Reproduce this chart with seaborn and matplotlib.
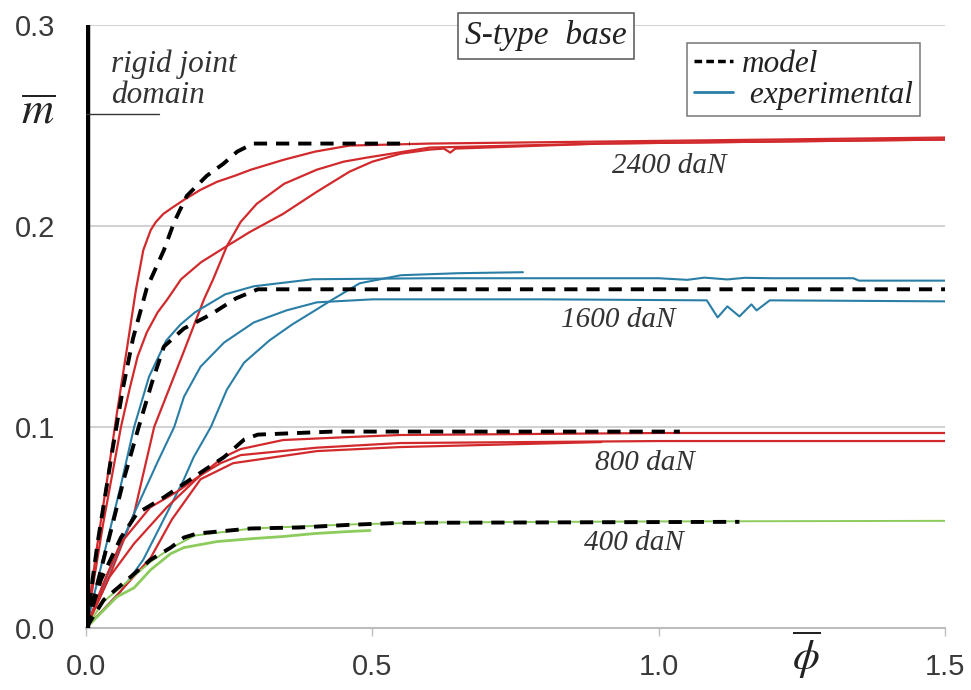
import numpy as np
import pandas as pd
import matplotlib
matplotlib.use("Agg")
import matplotlib.pyplot as plt
from matplotlib.lines import Line2D
import seaborn as sns

# ---------------- data ----------------
# 2400 daN
m2400_x = [0.0, 0.02, 0.047, 0.065, 0.082, 0.106, 0.136, 0.154, 0.176, 0.211, 0.240, 0.264, 0.292, 0.565]
m2400_y = [0.0, 0.042, 0.090, 0.120, 0.144, 0.169, 0.188, 0.202, 0.215, 0.225, 0.231, 0.237, 0.241, 0.241]

r2400a_x = [0.0, 0.019, 0.037, 0.054, 0.072, 0.087, 0.100, 0.113, 0.122, 0.135, 0.150, 0.171, 0.200, 0.229, 0.260, 0.288, 0.346, 0.40, 0.46, 0.60, 0.9, 1.2, 1.5]
r2400a_y = [0.0, 0.040, 0.074, 0.107, 0.140, 0.168, 0.188, 0.198, 0.202, 0.206, 0.209, 0.213, 0.218, 0.222, 0.225, 0.228, 0.233, 0.237, 0.240, 0.241, 0.242, 0.243, 0.244]

r2400b_x = [0.0, 0.03, 0.061, 0.077, 0.090, 0.106, 0.125, 0.142, 0.166, 0.201, 0.246, 0.286, 0.344, 0.403, 0.46, 0.50, 0.55, 0.60, 0.625, 0.636, 0.645, 0.9, 1.5]
r2400b_y = [0.0, 0.052, 0.100, 0.120, 0.135, 0.147, 0.157, 0.1635, 0.1735, 0.182, 0.190, 0.197, 0.206, 0.217, 0.227, 0.232, 0.236, 0.238, 0.2385, 0.2365, 0.2385, 0.241, 0.243]

r2400c_x = [0.0, 0.04, 0.084, 0.119, 0.17, 0.206, 0.222, 0.246, 0.270, 0.298, 0.346, 0.403, 0.45, 0.49, 0.60, 0.9, 1.5]
r2400c_y = [0.0, 0.025, 0.057, 0.100, 0.137, 0.1635, 0.1735, 0.190, 0.202, 0.211, 0.221, 0.228, 0.232, 0.234, 0.239, 0.241, 0.243]

# 1600 daN
m1600_x = [0.0, 0.044, 0.066, 0.092, 0.115, 0.136, 0.171, 0.218, 0.262, 0.30, 1.5]
m1600_y = [0.0, 0.049, 0.074, 0.100, 0.122, 0.140, 0.149, 0.156, 0.164, 0.1685, 0.1685]

b1600a_x = [0.0, 0.03, 0.06, 0.084, 0.11, 0.14, 0.165, 0.19, 0.243, 0.293, 0.396, 0.60, 1.0, 1.05, 1.08, 1.12, 1.15, 1.2, 1.34, 1.35, 1.5]
b1600a_y = [0.0, 0.035, 0.070, 0.100, 0.125, 0.143, 0.151, 0.157, 0.166, 0.170, 0.1735, 0.174, 0.174, 0.1732, 0.1743, 0.1734, 0.1742, 0.174, 0.174, 0.1728, 0.1728]

b1600b_x = [0.0, 0.04, 0.084, 0.124, 0.154, 0.171, 0.20, 0.241, 0.293, 0.35, 0.403, 0.50, 0.80, 1.084, 1.103, 1.12, 1.141, 1.162, 1.171, 1.194, 1.5]
b1600b_y = [0.0, 0.028, 0.057, 0.082, 0.100, 0.115, 0.130, 0.142, 0.152, 0.158, 0.162, 0.1635, 0.1635, 0.163, 0.1545, 0.160, 0.155, 0.161, 0.158, 0.163, 0.1625]

b1600c_x = [0.0, 0.06, 0.10, 0.141, 0.171, 0.188, 0.218, 0.246, 0.276, 0.32, 0.36, 0.40, 0.431, 0.478, 0.55, 0.65, 0.763]
b1600c_y = [0.0, 0.018, 0.034, 0.057, 0.074, 0.085, 0.100, 0.1186, 0.132, 0.143, 0.151, 0.158, 0.1635, 0.1715, 0.1755, 0.1765, 0.177]

# 800 daN
m800_x = [0.0, 0.026, 0.061, 0.089, 0.136, 0.188, 0.241, 0.276, 0.30, 0.43, 1.037]
m800_y = [0.0, 0.024, 0.045, 0.057, 0.065, 0.075, 0.085, 0.0937, 0.0962, 0.0977, 0.0977]

r800a_x = [0.0, 0.03, 0.06, 0.112, 0.16, 0.20, 0.24, 0.27, 0.344, 0.46, 0.548, 1.0, 1.5]
r800a_y = [0.0, 0.022, 0.042, 0.060, 0.068, 0.076, 0.085, 0.089, 0.0935, 0.095, 0.096, 0.097, 0.097]

r800b_x = [0.0, 0.04, 0.084, 0.141, 0.20, 0.235, 0.27, 0.403, 0.548, 1.0, 1.5]
r800b_y = [0.0, 0.025, 0.042, 0.060, 0.076, 0.082, 0.086, 0.0897, 0.092, 0.093, 0.093]

r800c_x = [0.0, 0.05, 0.113, 0.15, 0.20, 0.257, 0.403, 0.548, 0.90]
r800c_y = [0.0, 0.015, 0.035, 0.054, 0.074, 0.082, 0.088, 0.090, 0.0925]

# 400 daN
m400_x = [0.0, 0.031, 0.072, 0.113, 0.148, 0.171, 0.194, 0.288, 0.373, 0.46, 0.548, 1.141]
m400_y = [0.0, 0.014, 0.024, 0.034, 0.040, 0.045, 0.047, 0.0495, 0.050, 0.0513, 0.0523, 0.0528]

g400a_x = [0.0, 0.054, 0.084, 0.113, 0.148, 0.171, 0.229, 0.293, 0.344, 0.40, 0.46, 0.496]
g400a_y = [0.0, 0.0155, 0.020, 0.029, 0.037, 0.040, 0.043, 0.0445, 0.0455, 0.047, 0.048, 0.0485]

g400b_x = [0.0, 0.03, 0.072, 0.113, 0.15, 0.19, 0.29, 0.46, 0.60, 1.0, 1.5]
g400b_y = [0.0, 0.013, 0.023, 0.033, 0.040, 0.046, 0.0495, 0.0515, 0.0525, 0.053, 0.0533]

y_ticks = [0.0, 0.1, 0.2, 0.3]
x_ticks = [0.0, 0.5, 1.0, 1.5]
load_labels = ["2400 daN", "1600 daN", "800 daN", "400 daN"]
load_label_x = [1.019, 0.930, 0.976, 0.957]
load_label_y = [0.2298, 0.1530, 0.0822, 0.0424]

# ---------------- style ----------------
sns.set_theme(style="white")
plt.rcParams["font.family"] = ["Liberation Sans", "DejaVu Sans"]
plt.rcParams["mathtext.fontset"] = "stix"

RED = "#d22a2c"
BLUE = "#2a7ea6"
GREEN = "#8ccb5c"
SERIF = ["Liberation Serif", "DejaVu Serif"]

fig = plt.figure(figsize=(9.71, 6.90), dpi=100)
ax = fig.add_axes([0.0886, 0.0899, 0.8846, 0.8739])

def draw(xs, ys, color, lw, dashed=False, z=2):
    df = pd.DataFrame({"x": xs, "y": ys})
    n_before = len(ax.lines)
    sns.lineplot(data=df, x="x", y="y", ax=ax, color=color, lw=lw,
                 sort=False, estimator=None, zorder=z)
    ln = ax.lines[n_before]
    ln.set_solid_joinstyle("round")
    if dashed:
        ln.set_dashes((3.4, 2.3))
        ln.set_dash_capstyle("butt")
    return ln

# experimental curves
for xs, ys in [(r2400a_x, r2400a_y), (r2400b_x, r2400b_y), (r2400c_x, r2400c_y)]:
    draw(xs, ys, RED, 1.6)
for xs, ys in [(b1600a_x, b1600a_y), (b1600b_x, b1600b_y), (b1600c_x, b1600c_y)]:
    draw(xs, ys, BLUE, 1.5)
for xs, ys in [(r800a_x, r800a_y), (r800b_x, r800b_y), (r800c_x, r800c_y)]:
    draw(xs, ys, RED, 1.6)
draw(g400b_x, g400b_y, GREEN, 1.4)
draw(g400a_x, g400a_y, GREEN, 2.0)

# model curves
for xs, ys in [(m2400_x, m2400_y), (m1600_x, m1600_y), (m800_x, m800_y), (m400_x, m400_y)]:
    draw(xs, ys, "black", 2.8, dashed=True, z=3)

# axes limits / grid
ax.set_xlim(0, 1.5)
ax.set_ylim(0, 0.3)
ax.set_xticks(x_ticks)
ax.set_yticks(y_ticks)
ax.set_xticklabels([f"{v:.1f}" for v in x_ticks], fontsize=21, color="#3a3a3a")
ax.set_yticklabels([f"{v:.1f}" for v in y_ticks], fontsize=21, color="#3a3a3a")
ax.set_xlabel("")
ax.set_ylabel("")
ax.yaxis.grid(True, color="#c9c9c9", lw=1.2)
ax.xaxis.grid(False)
for s in ["top", "right", "left"]:
    ax.spines[s].set_visible(False)
ax.spines["bottom"].set_color("#bdbdbd")
ax.spines["bottom"].set_linewidth(1.5)
ax.tick_params(axis="x", length=6, width=1, color="#bdbdbd", pad=12, direction="out", bottom=True)
ax.tick_params(axis="y", length=0, pad=22)

# rigid joint vertical line
ax.axvline(0.004, 0, 1, color="black", lw=3.2, zorder=5)
ax.plot([0.0, 0.127], [0.2557, 0.2557], color="#333333", lw=1.0, zorder=5)
ax.text(0.044, 0.2728, "rigid joint\ndomain", fontsize=22.5, style="italic",
        family=SERIF, color="#333333", va="center", ha="left", linespacing=1.08)

# axis symbols
fig.text(38 / 971, 1 - 112 / 690, r"$\overline{m}$", fontsize=32, ha="center", va="center", color="#222222")
fig.text(806 / 971, 1 - 655 / 690, r"$\overline{\phi}$", fontsize=31, ha="center", va="center", color="#222222")

# load labels
for lab, lx, ly in zip(load_labels, load_label_x, load_label_y):
    ax.text(lx, ly, lab, fontsize=21, style="italic", family=SERIF,
            color="#333333", ha="center", va="center")

# title box
ax.text(0.5355, 0.982, "S-type  base", transform=ax.transAxes, fontsize=24,
        style="italic", family=SERIF, color="#222222", ha="center", va="center",
        clip_on=False, zorder=6,
        bbox=dict(boxstyle="square,pad=0.22", fc="white", ec="#555555", lw=1.1))

# legend
handles = [Line2D([0], [0], color="black", lw=2.5, dashes=(2.2, 1.2)),
           Line2D([0], [0], color=BLUE, lw=2.0)]
leg = ax.legend(handles, ["model", " experimental"], loc="upper right",
                bbox_to_anchor=(0.971, 0.970), borderaxespad=0,
                prop={"family": SERIF, "style": "italic", "size": 22.5},
                handlelength=1.25, handletextpad=0.3, labelspacing=0.05,
                borderpad=0.22, frameon=True, fancybox=False)
leg.get_frame().set_edgecolor("#555555")
leg.get_frame().set_linewidth(1.1)
for t in leg.get_texts():
    t.set_color("#222222")

fig.savefig("out.png", dpi=100, facecolor="white")
